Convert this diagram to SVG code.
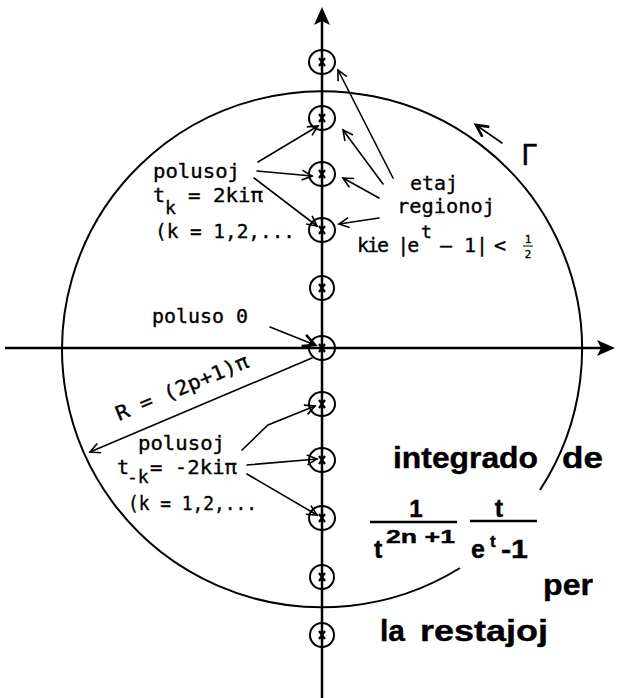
<svg xmlns="http://www.w3.org/2000/svg" width="625" height="698" viewBox="0 0 625 698">
<style>
.mono{font-family:"DejaVu Sans Mono","Liberation Mono",monospace;font-size:20px;fill:#000;stroke:#000;stroke-width:0.35}
.sub{font-size:18px}
.bold{font-family:"Liberation Sans",Arial,sans-serif;font-weight:bold;font-size:30px;fill:#000;stroke:#000;stroke-width:0.4}
.ln{fill:none;stroke:#000;stroke-width:1.6;stroke-linecap:round}
.pole{fill:none;stroke:#000;stroke-width:2}
.px{stroke:#000;stroke-width:2.2}
</style>
<defs>
<marker id="open" markerUnits="userSpaceOnUse" markerWidth="14" markerHeight="14" refX="11" refY="6" orient="auto">
<path d="M1,1 L11,6 L1,11" fill="none" stroke="#000" stroke-width="1.6"/>
</marker>
<marker id="openB" markerUnits="userSpaceOnUse" markerWidth="16" markerHeight="16" refX="13" refY="7" orient="auto">
<path d="M1,1 L13,7 L1,13" fill="none" stroke="#000" stroke-width="2.6"/>
</marker>
<marker id="axis" markerUnits="userSpaceOnUse" markerWidth="20" markerHeight="18" refX="4" refY="8" orient="auto">
<path d="M0,0 L18,8 L0,16 L4,8 z" fill="#000"/>
</marker>
<g id="px"><path class="px" d="M-3,-4 L3,4 M3,-4 L-3,4"/></g>
</defs>
<rect width="625" height="698" fill="#fff"/>

<g id="contour">
<path d="M540,490 A260,258 0 1 0 460,568" fill="none" stroke="#000" stroke-width="2"/>
</g>

<g id="axes">
<path d="M322,698 L322,21" fill="none" stroke="#000" stroke-width="2.5" marker-end="url(#axis)"/>
<path d="M5,348 L601,348" fill="none" stroke="#000" stroke-width="2.5" marker-end="url(#axis)"/>
</g>

<g id="poles">
<g id="pole-p5"><ellipse class="pole" cx="322" cy="62" rx="13" ry="12"/><use href="#px" x="322" y="62"/></g>
<g id="pole-p4"><ellipse class="pole" cx="322" cy="118" rx="13" ry="12"/><use href="#px" x="322" y="118"/></g>
<g id="pole-p3"><ellipse class="pole" cx="322" cy="174" rx="13" ry="12"/><use href="#px" x="322" y="174"/></g>
<g id="pole-p2"><ellipse class="pole" cx="322" cy="230" rx="13" ry="12"/><use href="#px" x="322" y="230"/></g>
<g id="pole-p1"><ellipse class="pole" cx="322" cy="288" rx="12" ry="12"/><use href="#px" x="322" y="288"/></g>
<g id="pole-0"><ellipse class="pole" cx="322" cy="348" rx="13" ry="12"/><use href="#px" x="322" y="348"/></g>
<g id="pole-m1"><ellipse class="pole" cx="322" cy="404" rx="13" ry="12"/><use href="#px" x="322" y="404"/></g>
<g id="pole-m2"><ellipse class="pole" cx="322" cy="460" rx="13" ry="12"/><use href="#px" x="322" y="460"/></g>
<g id="pole-m3"><ellipse class="pole" cx="322" cy="518" rx="13" ry="12"/><use href="#px" x="322" y="518"/></g>
<g id="pole-m4"><ellipse class="pole" cx="322" cy="577" rx="12" ry="12"/><use href="#px" x="322" y="577"/></g>
<g id="pole-m5"><ellipse class="pole" cx="322" cy="635" rx="12" ry="12"/><use href="#px" x="322" y="635"/></g>
</g>

<g id="connectors">
<path class="ln" d="M258,162 L318,126" marker-end="url(#open)"/>
<path class="ln" d="M257,171 L312,176" marker-end="url(#open)"/>
<path class="ln" d="M254,178 L317,226" marker-end="url(#open)"/>
<path class="ln" d="M393,178 L338,70" marker-end="url(#open)"/>
<path class="ln" d="M383,184 L343,130" marker-end="url(#open)"/>
<path class="ln" d="M379,198 L343,178" marker-end="url(#open)"/>
<path class="ln" d="M379,218 L339,224" marker-end="url(#open)"/>
<path class="ln" d="M270,327 L315,345" stroke-width="3" marker-end="url(#openB)"/>
<path class="ln" d="M312,358 L90,452" marker-end="url(#open)"/>
<path class="ln" d="M242,450 L268,425 L315,406" marker-end="url(#open)"/>
<path class="ln" d="M247,465 L317,459" marker-end="url(#open)"/>
<path class="ln" d="M247,474 L317,515" marker-end="url(#open)"/>
<path class="ln" d="M502,143 L476,125" stroke-width="2.5" marker-end="url(#openB)"/>
</g>

<g id="label-polusoj-upper">
<text class="mono" x="153" y="178" textLength="87" lengthAdjust="spacingAndGlyphs">polusoj</text>
<text class="mono" x="153" y="202">t</text>
<text class="mono sub" x="165" y="214">k</text>
<text class="mono" x="188" y="202" textLength="75" lengthAdjust="spacingAndGlyphs">= 2kiπ</text>
<text class="mono" x="155" y="238" textLength="140" lengthAdjust="spacingAndGlyphs">(k = 1,2,...</text>
</g>

<g id="label-regionoj">
<text class="mono" x="410" y="190" textLength="48" lengthAdjust="spacingAndGlyphs">etaj</text>
<text class="mono" x="397" y="213" textLength="98" lengthAdjust="spacingAndGlyphs">regionoj</text>
<text class="mono" x="357" y="252" style="letter-spacing:-2px">kie |e</text>
<text class="mono sub" x="421" y="238">t</text>
<text class="mono" x="440" y="252" textLength="48" lengthAdjust="spacingAndGlyphs">– 1|</text>
<text class="mono" x="494" y="252">&lt;</text>
<text class="mono" x="528" y="243" text-anchor="middle" style="font-size:11px">1</text>
<path d="M523,246 L533,246" stroke="#000" stroke-width="1"/>
<text class="mono" x="528" y="258" text-anchor="middle" style="font-size:11px">2</text>
</g>

<g id="label-gamma">
<text class="mono" x="521" y="165" style="font-size:28px">Γ</text>
</g>

<g id="label-poluso0">
<text class="mono" x="152" y="323" textLength="96" lengthAdjust="spacingAndGlyphs">poluso 0</text>
</g>

<g id="label-radius">
<text class="mono" transform="translate(119,421) rotate(-22.5)" x="0" y="0" textLength="142" lengthAdjust="spacingAndGlyphs">R = (2p+1)π</text>
</g>

<g id="label-polusoj-lower">
<text class="mono" x="138" y="450" textLength="87" lengthAdjust="spacingAndGlyphs">polusoj</text>
<text class="mono" x="117" y="474">t</text>
<text class="mono sub" x="127" y="483">-k</text>
<text class="mono" x="150" y="474" textLength="87" lengthAdjust="spacingAndGlyphs">= -2kiπ</text>
<text class="mono" x="128" y="510" textLength="129" lengthAdjust="spacingAndGlyphs">(k = 1,2,...</text>
</g>

<g id="label-integrado">
<text class="bold" x="393" y="468" textLength="145" lengthAdjust="spacingAndGlyphs">integrado</text>
<text class="bold" x="562" y="468" textLength="41" lengthAdjust="spacingAndGlyphs">de</text>
<text class="bold" x="416" y="517" text-anchor="middle" style="font-size:24px">1</text>
<path d="M370,522 L457,522" stroke="#000" stroke-width="2.5"/>
<text class="bold" x="374" y="558" style="font-size:25px">t</text>
<text class="bold" x="386" y="543" style="font-size:19px" textLength="69" lengthAdjust="spacingAndGlyphs">2n +1</text>
<text class="bold" x="499" y="517" text-anchor="middle" style="font-size:25px">t</text>
<path d="M470,521 L537,521" stroke="#000" stroke-width="2.5"/>
<text class="bold" x="471" y="558" style="font-size:25px">e</text>
<text class="bold" x="490" y="547" style="font-size:17px">t</text>
<text class="bold" x="501" y="558" style="font-size:25px" textLength="27" lengthAdjust="spacingAndGlyphs">-1</text>
<text class="bold" x="543" y="595" textLength="50" lengthAdjust="spacingAndGlyphs">per</text>
<text class="bold" x="380" y="641" textLength="25" lengthAdjust="spacingAndGlyphs">la</text>
<text class="bold" x="420" y="641" textLength="128" lengthAdjust="spacingAndGlyphs">restajoj</text>
</g>
</svg>
